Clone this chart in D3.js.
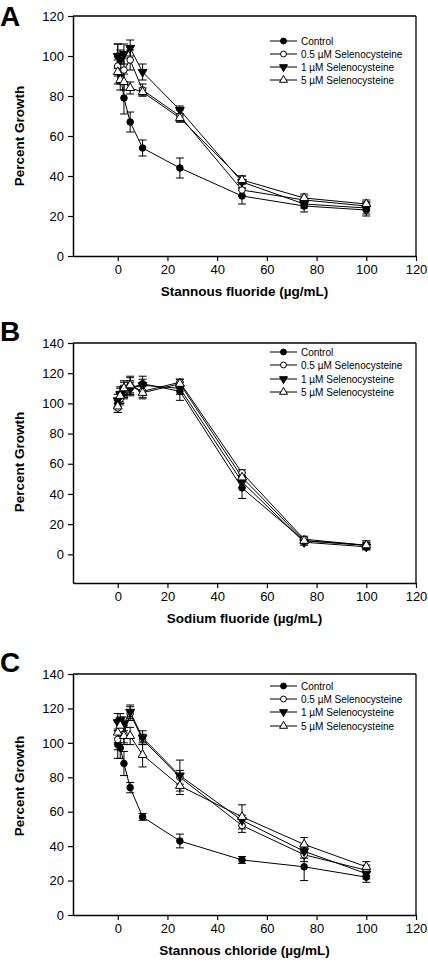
<!DOCTYPE html>
<html><head><meta charset="utf-8">
<script src="https://cdn.jsdelivr.net/npm/d3@7"></script>
<style>body{margin:0;background:#fff}svg{display:block;font-family:Arial,"Liberation Sans",sans-serif}</style>
</head><body>
<svg id="c" width="428" height="964"></svg>
<script>
const doses = [0, 1, 2.5, 5, 10, 25, 50, 75, 100];
const seriesNames = ["Control", "0.5 \u00b5M Selenocysteine", "1 \u00b5M Selenocysteine", "5 \u00b5M Selenocysteine"];
const xTicks = [0, 20, 40, 60, 80, 100, 120];

// Panel A: Stannous fluoride
const aControl = [100, 91, 79, 67, 54, 44, 30, 25, 23];
const aControlErr = [6, 5, 8, 5, 4, 5, 4, 3, 3];
const aSel05 = [95, 92, 93, 98, 83, 70, 33, 28, 25];
const aSel05Err = [5, 5, 6, 5, 3, 3, 3, 2, 2];
const aSel1 = [100, 98, 101, 104, 92, 73, 37, 26, 24];
const aSel1Err = [6, 5, 5, 4, 4, 2, 3, 2, 3];
const aSel5 = [92, 88, 87, 84, 82, 69, 38, 29, 26];
const aSel5Err = [6, 5, 4, 3, 2, 2, 2, 2, 2];
const aYTicks = [0, 20, 40, 60, 80, 100, 120];

// Panel B: Sodium fluoride
const bControl = [100, 104, 107, 110, 113, 108, 44, 9, 6];
const bControlErr = [3, 4, 4, 4, 5, 6, 7, 2, 2];
const bSel05 = [97, 103, 108, 112, 108, 114, 54, 10, 6];
const bSel05Err = [3, 4, 4, 5, 4, 2, 2, 2, 2];
const bSel1 = [102, 106, 109, 110, 112, 110, 48, 8, 5];
const bSel1Err = [4, 5, 5, 5, 4, 4, 4, 2, 2];
const bSel5 = [98, 105, 110, 112, 107, 113, 51, 9, 6];
const bSel5Err = [4, 5, 5, 6, 4, 3, 3, 2, 3];
const bYTicks = [0, 20, 40, 60, 80, 100, 120, 140];

// Panel C: Stannous chloride
const cControl = [99, 97, 88, 74, 57, 43, 32, 28, 22];
const cControlErr = [8, 6, 7, 3, 2, 4, 2, 8, 3];
const cSel05 = [102, 108, 105, 117, 102, 80, 52, 35, 26];
const cSel05Err = [6, 5, 5, 4, 3, 4, 4, 4, 3];
const cSel1 = [112, 113, 111, 118, 103, 81, 55, 37, 24];
const cSel1Err = [5, 4, 4, 4, 4, 9, 3, 4, 3];
const cSel5 = [106, 110, 104, 104, 93, 75, 57, 41, 28];
const cSel5Err = [6, 5, 5, 5, 7, 5, 7, 4, 3];
const cYTicks = [0, 20, 40, 60, 80, 100, 120, 140];

const panels = [
  {letter:"A", xlabel:"Stannous fluoride (\u00b5g/mL)", yDomain:[0,120], top:16, bottom:256, yTicks:aYTicks,
   ytitleY:136, legendY:[41,54,67,80], letterY:26,
   series:[[aControl,aControlErr],[aSel05,aSel05Err],[aSel1,aSel1Err],[aSel5,aSel5Err]]},
  {letter:"B", xlabel:"Sodium fluoride (\u00b5g/mL)", yDomain:[-19,140], top:343, bottom:583, yTicks:bYTicks,
   ytitleY:462, legendY:[352,365,379,392], letterY:341,
   series:[[bControl,bControlErr],[bSel05,bSel05Err],[bSel1,bSel1Err],[bSel5,bSel5Err]]},
  {letter:"C", xlabel:"Stannous chloride (\u00b5g/mL)", yDomain:[0,140], top:674, bottom:915, yTicks:cYTicks,
   ytitleY:786, legendY:[686,699,712,726], letterY:672,
   series:[[cControl,cControlErr],[cSel05,cSel05Err],[cSel1,cSel1Err],[cSel5,cSel5Err]]}
];

const markerStyles = [
  {type:d3.symbolCircle, size:34, fill:"#000", rot:0},
  {type:d3.symbolCircle, size:34, fill:"#fff", rot:0},
  {type:d3.symbolTriangle, size:34, fill:"#000", rot:180},
  {type:d3.symbolTriangle, size:34, fill:"#fff", rot:0}
];

const svg = d3.select("#c");
const left = 73, right = 416;

panels.forEach(p => {
  const x = d3.scaleLinear().domain([-18, 120]).range([left, right]);
  const y = d3.scaleLinear().domain(p.yDomain).range([p.bottom, p.top]);
  const g = svg.append("g");

  g.append("line").attr("x1",left).attr("x2",right).attr("y1",p.top).attr("y2",p.top).attr("stroke","#000").attr("stroke-width",1.3);
  g.append("line").attr("x1",right).attr("x2",right).attr("y1",p.top).attr("y2",p.bottom).attr("stroke","#000").attr("stroke-width",1.3);

  const xAxis = g.append("g").attr("transform",`translate(0,${p.bottom})`)
    .call(d3.axisBottom(x).tickValues(xTicks).tickSize(5).tickSizeOuter(0).tickPadding(4));
  const yAxis = g.append("g").attr("transform",`translate(${left},0)`)
    .call(d3.axisLeft(y).tickValues(p.yTicks).tickSize(5).tickSizeOuter(0).tickPadding(4));
  [xAxis,yAxis].forEach(a=>{
    a.select(".domain").attr("stroke","#000").attr("stroke-width",1.5);
    a.selectAll(".tick line").attr("stroke","#000").attr("stroke-width",1.2);
    a.selectAll("text").attr("font-size",13).attr("fill","#000").attr("font-family","Arial, 'Liberation Sans', sans-serif");
  });

  const line = d3.line().x((d,i)=>x(doses[i])).y(d=>y(d));
  p.series.forEach(([vals]) => {
    g.append("path").attr("d", line(vals)).attr("fill","none").attr("stroke","#000").attr("stroke-width",1);
  });
  p.series.forEach(([vals, errs]) => {
    vals.forEach((v,i)=>{
      const cx = x(doses[i]), y1 = y(v+errs[i]), y2 = y(v-errs[i]);
      g.append("line").attr("x1",cx).attr("x2",cx).attr("y1",y1).attr("y2",y2).attr("stroke","#000").attr("stroke-width",1);
      [y1,y2].forEach(yy=>g.append("line").attr("x1",cx-4).attr("x2",cx+4).attr("y1",yy).attr("y2",yy).attr("stroke","#000").attr("stroke-width",1));
    });
  });
  p.series.forEach(([vals], si) => {
    const m = markerStyles[si];
    const sym = d3.symbol().type(m.type).size(m.size);
    vals.forEach((v,i)=>{
      g.append("path").attr("d", sym())
        .attr("transform",`translate(${x(doses[i])},${y(v)}) rotate(${m.rot})`)
        .attr("fill",m.fill).attr("stroke","#000").attr("stroke-width",1);
    });
  });

  seriesNames.forEach((name, si) => {
    const ly = p.legendY[si];
    const m = markerStyles[si];
    g.append("line").attr("x1",270).attr("x2",297).attr("y1",ly).attr("y2",ly).attr("stroke","#000").attr("stroke-width",1);
    g.append("path").attr("d", d3.symbol().type(m.type).size(m.size*0.8)())
      .attr("transform",`translate(283.5,${ly}) rotate(${m.rot})`)
      .attr("fill",m.fill).attr("stroke","#000").attr("stroke-width",1);
    g.append("text").attr("x",301).attr("y",ly+3.5).attr("font-size",10).text(name);
  });

  g.append("text").attr("x",(left+right)/2).attr("y",p.bottom+40).attr("text-anchor","middle")
    .attr("font-size",13.5).attr("font-weight","bold").text(p.xlabel);
  g.append("text").attr("transform",`translate(24,${p.ytitleY}) rotate(-90)`).attr("text-anchor","middle")
    .attr("font-size",13.5).attr("font-weight","bold").text("Percent Growth");
  g.append("text").attr("x",0).attr("y",p.letterY).attr("font-size",28).attr("font-weight","bold").text(p.letter);
});
</script>
</body></html>
